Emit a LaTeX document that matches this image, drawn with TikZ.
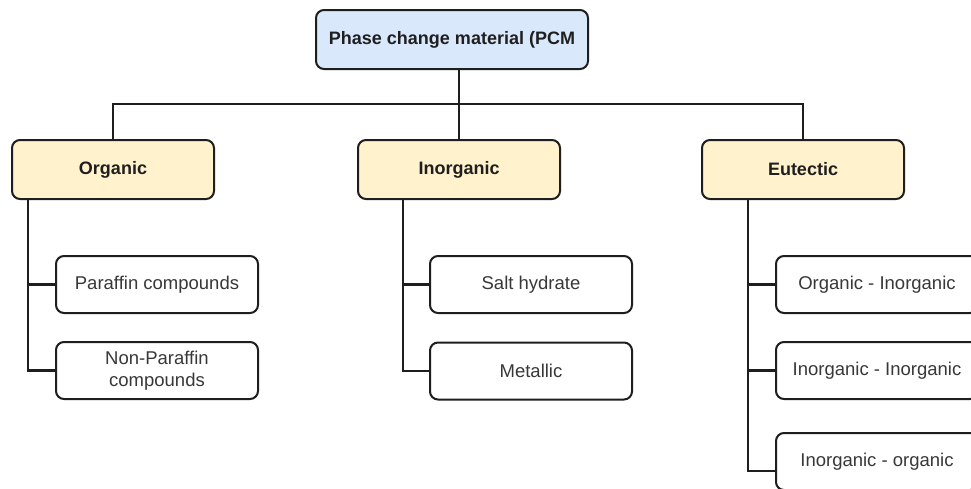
\documentclass[tikz,border=0pt]{standalone}
\usepackage{fontspec}
\setmainfont{Liberation Sans}
\definecolor{bluefill}{HTML}{DAE8FC}
\definecolor{yellowfill}{HTML}{FFF2CC}
\definecolor{edge}{HTML}{1E1E1E}
\begin{document}
\begin{tikzpicture}[x=1pt,y=-1pt,
  box/.style={draw=edge, line width=2pt, rounded corners=8pt, minimum width=202pt,
    minimum height=57pt, align=center, text=black!78, inner sep=0pt,
    font=\fontsize{18.5}{21.5}\selectfont},
  head/.style={box, fill=yellowfill, minimum height=59pt, text=black!88,
    font=\fontsize{18}{21.5}\selectfont\bfseries},
  link/.style={draw=edge, line width=2.2pt}]
\clip (0,0) rectangle (971,488);
\fill[white] (0,0) rectangle (971,488);

\node[head, fill=bluefill, minimum width=272pt] (pcm) at (452,39.5) {Phase change material (PCM};
\node[head] (organic) at (113,169.5) {Organic};
\node[head] (inorganic) at (459,169.5) {Inorganic};
\node[head] (eutectic) at (803,169.5) {Eutectic};

\node[box] (paraffin) at (157,284.5) {Paraffin compounds};
\node[box] (nonpar) at (157,370.5) {Non-Paraffin\\compounds};
\node[box] (salt) at (531,284.5) {Salt hydrate};
\node[box] (metallic) at (531,371) {Metallic};
\node[box] (orginorg) at (877,284.5) {Organic - Inorganic};
\node[box] (inorginorg) at (877,370.5) {Inorganic - Inorganic};
\node[box] (inorgorg) at (877,461.5) {Inorganic - organic};

\coordinate (bus) at (459,104);
\coordinate (ostem) at (28,0);
\coordinate (istem) at (403,0);
\coordinate (estem) at (748,0);
\coordinate (ioend) at ([yshift=-9.5pt]inorgorg.west);

\draw[link] (pcm.south -| inorganic.north) -- (inorganic.north);
\draw[link] (organic.north) |- (bus) -| (eutectic.north);

\draw[link] (organic.south -| ostem) |- (nonpar.west);
\draw[link] (paraffin.west -| ostem) -- (paraffin.west);

\draw[link] (inorganic.south -| istem) |- (metallic.west);
\draw[link] (salt.west -| istem) -- (salt.west);

\draw[link] (eutectic.south -| estem) |- (ioend);
\draw[link] (orginorg.west -| estem) -- (orginorg.west);
\draw[link] (inorginorg.west -| estem) -- (inorginorg.west);
\end{tikzpicture}
\end{document}
